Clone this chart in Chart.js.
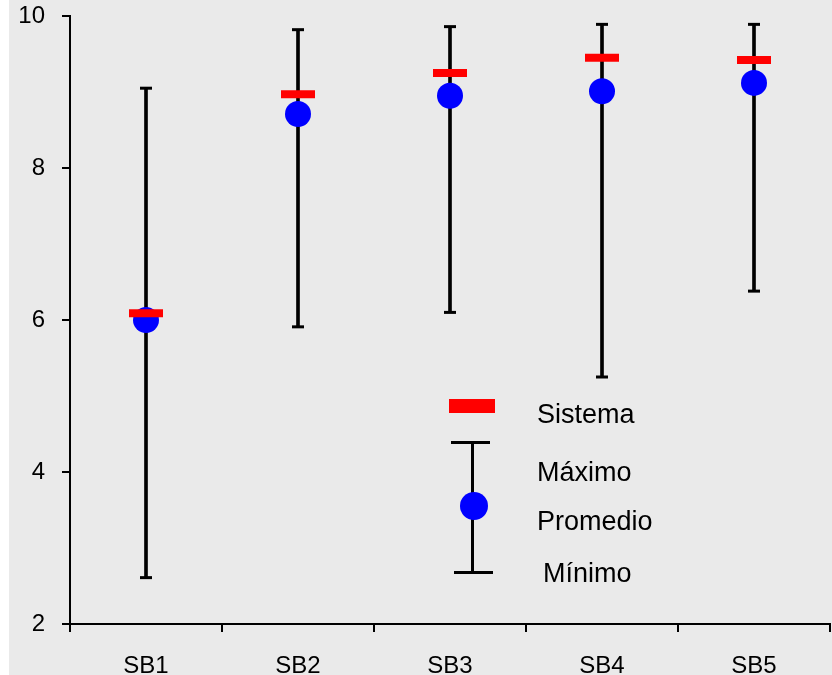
<!DOCTYPE html>
<html>
<head>
<meta charset="utf-8">
<script src="https://cdn.jsdelivr.net/npm/chart.js@4.4.1/dist/chart.umd.min.js"></script>
<style>
    html, body { margin: 0; padding: 0; background: #ffffff; }
    #wrap { position: relative; width: 832px; height: 675px; overflow: hidden; }
    #bg { position: absolute; left: 9px; top: 0; width: 823px; height: 675px; background: #eaeaea; }
    #chart { position: absolute; left: 0; top: 0; }
    .lg { position: absolute; }
    .lg-text { position: absolute; font-family: 'Liberation Sans', Arial, sans-serif; font-size: 27px; line-height: 27px; color: #000; white-space: nowrap; }
</style>
</head>
<body>
<div id="wrap">
    <div id="bg"></div>
    <canvas id="chart" width="832" height="675"></canvas>

    <!-- Custom legend -->
    <div class="lg" style="left:449px; top:399px; width:46px; height:14px; background:#ff0000;"></div>
    <div class="lg" style="left:451px; top:441px; width:39px; height:3px; background:#000;"></div>
    <div class="lg" style="left:471px; top:443px; width:3px; height:129px; background:#000;"></div>
    <div class="lg" style="left:454px; top:571px; width:39px; height:3px; background:#000;"></div>
    <div class="lg" style="left:460px; top:492px; width:28px; height:28px; border-radius:50%; background:#0000ff;"></div>
    <div class="lg-text" style="left:537px; top:401px;">Sistema</div>
    <div class="lg-text" style="left:537px; top:459px;">Máximo</div>
    <div class="lg-text" style="left:537px; top:508px;">Promedio</div>
    <div class="lg-text" style="left:543px; top:560px;">Mínimo</div>
</div>

<script>
// Data
const categories = ['SB1', 'SB2', 'SB3', 'SB4', 'SB5'];
const maximo   = [9.05, 9.82, 9.86, 9.89, 9.89];
const minimo   = [2.61, 5.91, 6.10, 5.25, 6.38];
const promedio = [6.00, 8.71, 8.95, 9.01, 9.12];
const sistema  = [6.09, 8.97, 9.25, 9.45, 9.42];
const yTicks   = [2, 4, 6, 8, 10];

Chart.defaults.font.family = "'Liberation Sans', Arial, sans-serif";
Chart.defaults.font.size = 24;
Chart.defaults.color = '#000000';

const ranges = categories.map((c, i) => [minimo[i], maximo[i]]);

new Chart(document.getElementById('chart'), {
    type: 'bar',
    data: {
        labels: categories,
        datasets: [
            {
                label: 'Sistema',
                type: 'line',
                data: sistema,
                showLine: false,
                pointStyle: 'line',
                pointRadius: 17,
                pointBorderWidth: 8,
                pointBorderColor: '#ff0000',
                borderColor: '#ff0000',
                order: 0
            },
            {
                label: 'Promedio',
                type: 'line',
                data: promedio,
                showLine: false,
                pointStyle: 'circle',
                pointRadius: 13,
                pointBorderWidth: 0,
                pointBackgroundColor: '#0000ff',
                order: 1
            },
            {
                label: 'Máximo',
                type: 'line',
                data: maximo,
                showLine: false,
                pointStyle: 'line',
                pointRadius: 6,
                pointBorderWidth: 3,
                pointBorderColor: '#000000',
                order: 2
            },
            {
                label: 'Mínimo',
                type: 'line',
                data: minimo,
                showLine: false,
                pointStyle: 'line',
                pointRadius: 6,
                pointBorderWidth: 3,
                pointBorderColor: '#000000',
                order: 2
            },
            {
                label: 'Rango',
                data: ranges,
                backgroundColor: '#000000',
                barThickness: 3,
                borderWidth: 0,
                order: 3
            }
        ]
    },
    options: {
        responsive: false,
        animation: false,
        layout: { autoPadding: false, padding: { left: 0, top: 16, right: 2, bottom: 0 } },
        plugins: {
            legend: { display: false },
            tooltip: { enabled: false }
        },
        scales: {
            x: {
                offset: true,
                grid: {
                    offset: true,
                    drawOnChartArea: false,
                    drawTicks: true,
                    tickLength: 8,
                    color: '#000000',
                    lineWidth: 2
                },
                border: { display: true, color: '#000000', width: 2 },
                ticks: { padding: 20, maxRotation: 0 },
                afterFit: (scale) => {
                    scale.height = 51;
                    scale.paddingLeft = 0;
                    scale.paddingRight = 0;
                }
            },
            y: {
                min: 2,
                max: 10,
                afterBuildTicks: (scale) => { scale.ticks = yTicks.map(v => ({ value: v })); },
                grid: {
                    drawOnChartArea: false,
                    drawTicks: true,
                    tickLength: 8,
                    color: '#000000',
                    lineWidth: 2
                },
                border: { display: true, color: '#000000', width: 2 },
                ticks: { padding: 17 },
                afterFit: (scale) => {
                    scale.width = 70;
                    scale.paddingTop = 0;
                    scale.paddingBottom = 0;
                }
            }
        }
    }
});
</script>
</body>
</html>
